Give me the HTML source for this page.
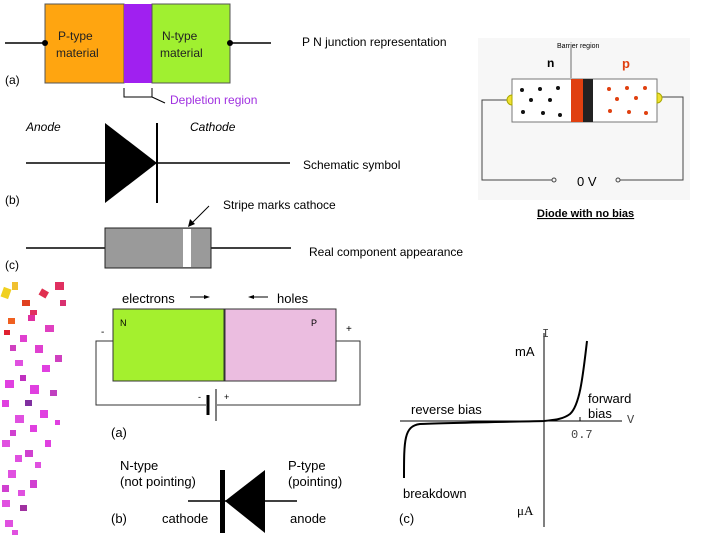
<!DOCTYPE html>
<html><head><style>
body{margin:0;background:#fff;}
svg{display:block;font-family:"Liberation Sans",sans-serif;}
</style></head><body>
<svg width="720" height="540" viewBox="0 0 720 540">
<rect width="720" height="540" fill="#fff"/>
<!-- confetti -->
<g>
<rect x="2" y="288" width="8" height="10" fill="#f0d020" transform="rotate(20 6 293)"/>
<rect x="12" y="282" width="6" height="8" fill="#f0c030"/>
<rect x="22" y="300" width="8" height="6" fill="#e04020"/>
<rect x="40" y="290" width="8" height="7" fill="#e03050" transform="rotate(30 44 293)"/>
<rect x="55" y="282" width="9" height="8" fill="#e03060"/>
<rect x="60" y="300" width="6" height="6" fill="#d83070"/>
<rect x="4" y="330" width="6" height="5" fill="#e02030"/>
<rect x="8" y="318" width="7" height="6" fill="#f06020"/>
<rect x="45" y="325" width="9" height="7" fill="#e040c0"/>
<rect x="35" y="345" width="8" height="8" fill="#e040d0"/>
<rect x="55" y="355" width="7" height="7" fill="#d040c0"/>
<rect x="15" y="360" width="8" height="6" fill="#e050e0"/>
<rect x="5" y="380" width="9" height="8" fill="#e040e0"/>
<rect x="30" y="385" width="9" height="9" fill="#e040e0"/>
<rect x="50" y="390" width="7" height="6" fill="#c040c0"/>
<rect x="40" y="410" width="8" height="8" fill="#e040e0"/>
<rect x="15" y="415" width="9" height="8" fill="#e050e0"/>
<rect x="2" y="440" width="8" height="7" fill="#e050e0"/>
<rect x="25" y="450" width="8" height="7" fill="#d040d0"/>
<rect x="45" y="440" width="6" height="7" fill="#e040e0"/>
<rect x="8" y="470" width="8" height="8" fill="#e050e0"/>
<rect x="30" y="480" width="7" height="8" fill="#d040d0"/>
<rect x="2" y="500" width="8" height="7" fill="#e050e0"/>
<rect x="20" y="505" width="7" height="6" fill="#a030a0"/>
<rect x="5" y="520" width="8" height="7" fill="#e050e0"/>
<rect x="12" y="530" width="6" height="5" fill="#e050e0"/>
<rect x="25" y="400" width="7" height="6" fill="#8030a0"/>
<rect x="10" y="345" width="6" height="6" fill="#d040c0"/>
<rect x="55" y="420" width="5" height="5" fill="#e040e0"/>
<rect x="28" y="315" width="7" height="6" fill="#e030a0"/>
<rect x="20" y="335" width="7" height="7" fill="#e040d0"/>
<rect x="42" y="365" width="8" height="7" fill="#e040e0"/>
<rect x="20" y="375" width="6" height="6" fill="#c030c0"/>
<rect x="2" y="400" width="7" height="7" fill="#e040e0"/>
<rect x="30" y="425" width="7" height="7" fill="#e040e0"/>
<rect x="10" y="430" width="6" height="6" fill="#d040d0"/>
<rect x="15" y="455" width="7" height="7" fill="#e050e0"/>
<rect x="35" y="462" width="6" height="6" fill="#e050e0"/>
<rect x="2" y="485" width="7" height="7" fill="#d040d0"/>
<rect x="18" y="490" width="7" height="6" fill="#e050e0"/>
<rect x="30" y="310" width="7" height="5" fill="#e03060"/>
</g>

<!-- (a) PN junction -->
<line x1="5" y1="43" x2="271" y2="43" stroke="#000" stroke-width="1.5"/>
<rect x="45" y="4" width="79" height="79" fill="#ffa510" stroke="#555"/>
<rect x="124" y="4" width="28" height="79" fill="#a020f0"/>
<rect x="152" y="4" width="78" height="79" fill="#a0f030" stroke="#555"/>
<circle cx="45" cy="43" r="3"/><circle cx="230" cy="43" r="3"/>
<g font-size="12" fill="#222"><text x="58" y="40">P-type</text><text x="56" y="57">material</text>
<text x="162" y="40">N-type</text><text x="160" y="57">material</text></g>
<text x="302" y="46" font-size="12">P N junction representation</text>
<text x="5" y="84" font-size="12">(a)</text>
<path d="M124 88 V97 H152 V88 M152 97 L165 103" fill="none" stroke="#000"/>
<text x="170" y="104" font-size="12" fill="#a030e0">Depletion region</text>

<!-- (b) schematic -->
<line x1="26" y1="163" x2="290" y2="163" stroke="#000" stroke-width="1.5"/>
<polygon points="105,123 105,203 157,163" fill="#000"/>
<line x1="157" y1="123" x2="157" y2="203" stroke="#000" stroke-width="2"/>
<g font-size="12" font-style="italic"><text x="26" y="131">Anode</text><text x="190" y="131">Cathode</text></g>
<text x="303" y="169" font-size="12">Schematic symbol</text>
<text x="5" y="204" font-size="12">(b)</text>

<!-- (c) component -->
<line x1="26" y1="248" x2="291" y2="248" stroke="#000" stroke-width="1.5"/>
<rect x="105" y="228" width="106" height="40" fill="#9a9a9a" stroke="#222"/>
<rect x="183" y="229" width="8" height="38" fill="#fff"/>
<line x1="209" y1="206" x2="190" y2="225" stroke="#000"/>
<polygon points="188,227 190,219 195,224" fill="#000"/>
<text x="223" y="209" font-size="12">Stripe marks cathoce</text>
<text x="309" y="256" font-size="12">Real component appearance</text>
<text x="5" y="269" font-size="12">(c)</text>

<!-- right: no bias -->
<rect x="478" y="38" width="212" height="162" fill="#f7f7f7"/>
<path d="M512 100 H482 V180 H552 M620 180 H683 V97 H657" fill="none" stroke="#444"/>
<circle cx="554" cy="180" r="2" fill="none" stroke="#444"/>
<circle cx="618" cy="180" r="2" fill="none" stroke="#444"/>
<text x="577" y="186" font-size="13">0 V</text>
<rect x="512" y="79" width="145" height="43" fill="#fff" stroke="#777"/>
<path d="M512 95 A5 5 0 0 0 512 105 Z" fill="#f0e030" stroke="#aa0"/>
<path d="M657 93 A5 5 0 0 1 657 103 Z" fill="#f0e030" stroke="#aa0"/>
<text x="547" y="67" font-size="12" font-weight="bold">n</text>
<text x="622" y="68" font-size="13" font-weight="bold" fill="#e04010">p</text>
<text x="557" y="48" font-size="7">Barrier region</text>
<line x1="571" y1="48" x2="571" y2="78" stroke="#333" stroke-width="0.7"/>
<g fill="#111"><circle cx="522" cy="90" r="2"/><circle cx="540" cy="89" r="2"/><circle cx="558" cy="88" r="2"/>
<circle cx="531" cy="100" r="2"/><circle cx="550" cy="100" r="2"/><circle cx="523" cy="112" r="2"/><circle cx="543" cy="113" r="2"/><circle cx="560" cy="115" r="2"/></g>
<g fill="#e04010"><circle cx="609" cy="89" r="2"/><circle cx="627" cy="88" r="2"/><circle cx="645" cy="88" r="2"/>
<circle cx="617" cy="99" r="2"/><circle cx="636" cy="98" r="2"/><circle cx="610" cy="111" r="2"/><circle cx="629" cy="112" r="2"/><circle cx="646" cy="113" r="2"/></g>
<rect x="571" y="79" width="12" height="43" fill="#e04010"/>
<rect x="583" y="79" width="10" height="43" fill="#222"/>
<text x="537" y="217" font-size="11" font-weight="bold" text-decoration="underline">Diode with no bias</text>

<!-- bottom (a) -->
<rect x="113" y="309" width="111" height="72" fill="#a4f02e" stroke="#333"/>
<rect x="225" y="309" width="111" height="72" fill="#ebbde0" stroke="#333"/>
<text x="122" y="303" font-size="13">electrons</text>
<text x="277" y="303" font-size="13">holes</text>
<line x1="190" y1="297" x2="208" y2="297" stroke="#000"/><polygon points="210,297 204,295 204,299"/>
<line x1="250" y1="297" x2="268" y2="297" stroke="#000"/><polygon points="248,297 254,295 254,299"/>
<text x="120" y="326" font-size="9">N</text><text x="311" y="326" font-size="9">P</text>
<text x="101" y="335" font-size="10">-</text><text x="346" y="332" font-size="10">+</text>
<path d="M113 341 H96 V405 H206 M217 405 H360 V341 H336" fill="none" stroke="#333"/>
<line x1="208" y1="395" x2="208" y2="415" stroke="#000" stroke-width="3"/>
<line x1="216" y1="389" x2="216" y2="421" stroke="#000"/>
<text x="198" y="400" font-size="9">-</text><text x="224" y="400" font-size="9">+</text>
<text x="111" y="437" font-size="13">(a)</text>

<!-- bottom (b) -->
<line x1="188" y1="501" x2="297" y2="501" stroke="#000" stroke-width="1.5"/>
<rect x="220" y="470" width="5" height="63" fill="#000"/>
<polygon points="225,501 265,470 265,533" fill="#000"/>
<g font-size="13"><text x="120" y="470">N-type</text><text x="120" y="486">(not pointing)</text>
<text x="288" y="470">P-type</text><text x="288" y="486">(pointing)</text>
<text x="111" y="523">(b)</text><text x="162" y="523">cathode</text><text x="290" y="523">anode</text></g>

<!-- bottom (c) graph -->
<line x1="400" y1="421" x2="622" y2="421" stroke="#000"/>
<line x1="544" y1="333" x2="544" y2="527" stroke="#000"/>
<line x1="580" y1="417" x2="580" y2="421" stroke="#000"/>
<path d="M587 341 C583 375 580 405 570 414 C562 420 552 420 544 421 C500 422 440 423 420 424 C404 426 404 440 404 478" fill="none" stroke="#000" stroke-width="2"/>
<g font-family="Liberation Mono,monospace" font-size="12" fill="#444"><text x="542" y="337">I</text><text x="627" y="423">V</text><text x="571" y="438">0.7</text></g>
<g font-size="13"><text x="515" y="356">mA</text><text x="588" y="403">forward</text><text x="588" y="418">bias</text>
<text x="411" y="414">reverse bias</text><text x="403" y="498">breakdown</text><text x="399" y="523">(c)</text></g>
<text x="517" y="515" font-size="13" font-family="Liberation Serif,serif">μA</text>
</svg>
</body></html>
